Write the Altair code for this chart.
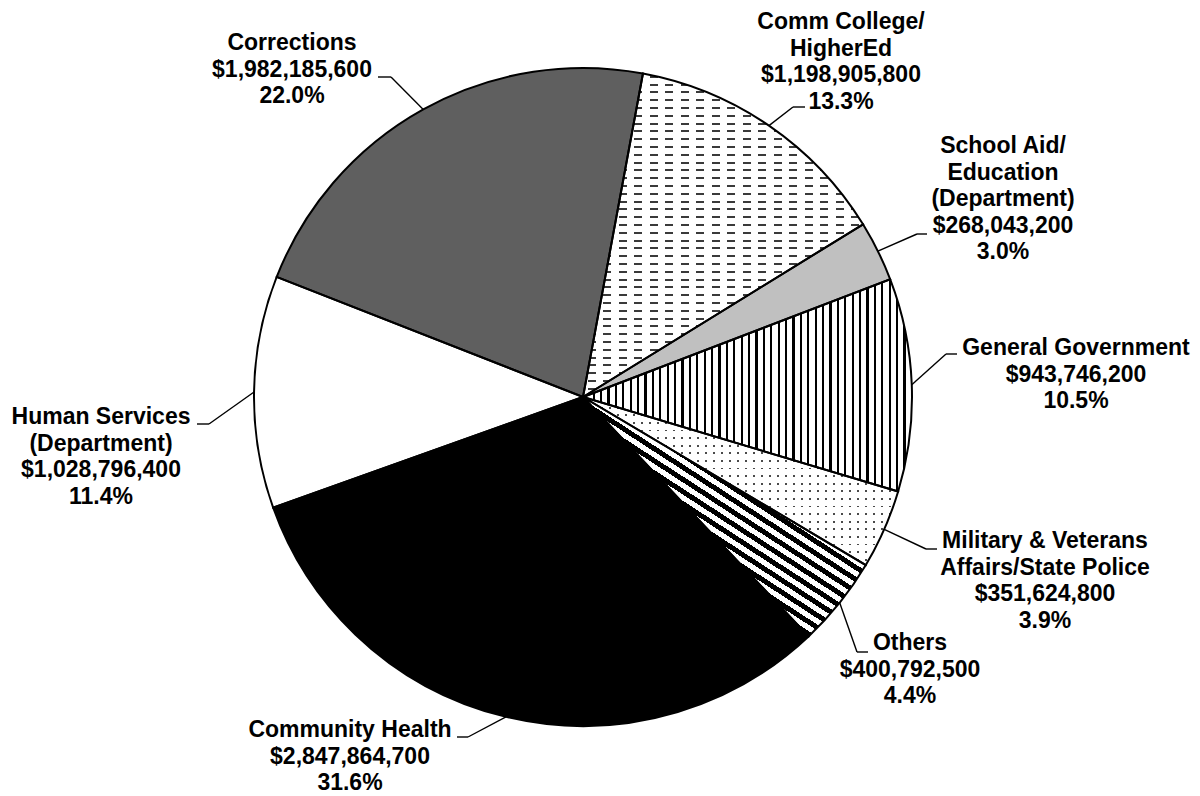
import math
import altair as alt
import pandas as pd

# ---------------- data ----------------
names = [
    "Comm College/\nHigherEd",
    "School Aid/\nEducation\n(Department)",
    "General Government",
    "Military & Veterans\nAffairs/State Police",
    "Others",
    "Community Health",
    "Human Services\n(Department)",
    "Corrections",
]
amounts = [1198905800, 268043200, 943746200, 351624800,
           400792500, 2847864700, 1028796400, 1982185600]

# ---------------- layout (pixels, relative to pie centre) ----------------
CX, CY, R = 575, 389, 329          # pie centre in chart coords, radius
START_DEG = 10.5                   # first slice starts here (clockwise from 12 o'clock)
label_dx = [258, 420, 493, 462, 327, -233, -482, -291]
label_dy = [-368, -244, -42, 151, 253, 340, 27, -347]
elbow_dx = [210, 334, 363, 343, 274, -115, -374, -192]
elbow_dy = [-290, -163, -43, 152, 255, 340, 27, -320]
stub_len = [12, 10, 11, 11, 11, -11, -12, -13]

# ---------------- fills (patterns emulated with hard-stop gradients) ----------------
total = sum(amounts)
CLEAR = "rgba(255,255,255,0)"


def wedge_bbox(a0, a1, r):
    pts = [(0.0, 0.0)]
    angs = [a0, a1] + [k * 90.0 for k in range(0, 9) if a0 < k * 90.0 < a1]
    for a in angs:
        t = math.radians(a)
        pts.append((r * math.sin(t), -r * math.cos(t)))
    xs = [p[0] for p in pts]
    ys = [p[1] for p in pts]
    return max(xs) - min(xs), max(ys) - min(ys)


def stripes(w, h, normal_deg, period, lw, line_color, bg="white", phase=0.3):
    nx, ny = math.cos(math.radians(normal_deg)), math.sin(math.radians(normal_deg))
    corners = [(0, 0), (1, 0), (0, 1), (1, 1)]
    vals = [nx * w * u + ny * h * v for u, v in corners]
    lo = min(vals)
    L = max(vals) - lo
    u0, v0 = corners[vals.index(lo)]
    gx, gy = nx * w / L, ny * h / L
    g2 = gx * gx + gy * gy
    x1, y1 = u0, v0
    x2, y2 = u0 + gx / g2, v0 + gy / g2
    n = int(L / period) + 2
    stops = []
    lwn = lw / L
    for k in range(n):
        a = (k + phase) * period / L
        if a >= 1:
            break
        b = min(a + lwn, 1.0)
        stops += [(a, bg), (a, line_color), (b, line_color), (b, bg)]
    stops = [(0.0, bg)] + stops + [(1.0, bg)]
    return alt.LinearGradient(
        gradient="linear",
        stops=[alt.GradientStop(offset=round(o, 5), color=c) for o, c in stops],
        x1=x1, y1=y1, x2=x2, y2=y2,
    )


angles = []
acc = START_DEG
for v in amounts:
    a0 = acc
    acc += 360.0 * v / total
    angles.append((a0, acc))

bbox = [wedge_bbox(a0, a1, R) for a0, a1 in angles]

fills = [
    stripes(*bbox[0], 90, 7.8, 2.0, "#3a3a3a"),      # rows for dashes
    "#c0c0c0",                                       # solid light grey
    stripes(*bbox[2], 0, 7.4, 2.2, "#000000"),       # vertical lines
    stripes(*bbox[3], 90, 7.6, 1.7, "#4a4a4a"),      # rows for dots
    stripes(*bbox[4], 123, 10.2, 5.0, "#000000"),    # diagonal stripes
    "#000000",
    "#ffffff",
    "#5f5f5f",
]
# white masks with clear gaps: cut rows into dashes / dots
overlays = {
    0: stripes(*bbox[0], 0, 15.5, 8.0, CLEAR, bg="white"),
    3: stripes(*bbox[3], 0, 8.0, 1.8, CLEAR, bg="white"),
}

df = pd.DataFrame({
    "order": list(range(len(names))),
    "name": names,
    "value": amounts,
    "ldx": label_dx, "ldy": label_dy,
    "edx": elbow_dx, "edy": elbow_dy,
    "stub": stub_len,
})

base = (
    alt.Chart(df)
    .transform_joinaggregate(total="sum(value)")
    .transform_window(cum="sum(value)", sort=[alt.SortField("order")], frame=[None, 0])
    .transform_calculate(
        t0=f"{math.radians(START_DEG)} + 2*PI*(datum.cum - datum.value)/datum.total",
        t1=f"{math.radians(START_DEG)} + 2*PI*datum.cum/datum.total",
    )
    .transform_calculate(
        tm="(datum.t0 + datum.t1)/2",
        label="datum.name + '\\n' + format(datum.value, '$,') + '\\n' + format(datum.value/datum.total, '.1%')",
        lx=f"{CX} + datum.ldx", ly=f"{CY} + datum.ldy",
        bx=f"{CX} + datum.edx", by=f"{CY} + datum.edy",
        sx=f"{CX} + datum.edx + datum.stub",
    )
    .transform_calculate(
        ex=f"{CX} + {R}*sin(datum.tm)",
        ey=f"{CY} - {R}*cos(datum.tm)",
    )
)

arc_enc = dict(
    theta=alt.Theta("t0:Q", scale=None),
    theta2=alt.Theta2("t1:Q"),
    x=alt.value(CX),
    y=alt.value(CY),
)

layers = []
for i in range(len(names)):
    sel = base.transform_filter(alt.datum.order == i)
    layers.append(sel.mark_arc(radius=R, fill=fills[i], strokeWidth=0).encode(**arc_enc))
    if i in overlays:
        layers.append(sel.mark_arc(radius=R, fill=overlays[i], strokeWidth=0).encode(**arc_enc))

outline = base.mark_arc(
    radius=R, fillOpacity=0, stroke="#000000", strokeWidth=2, strokeJoin="miter"
).encode(**arc_enc)

lead1 = base.mark_rule(color="#000000", strokeWidth=1.4).encode(
    x=alt.X("ex:Q", scale=None), y=alt.Y("ey:Q", scale=None),
    x2="bx:Q", y2="by:Q",
)
lead2 = base.mark_rule(color="#000000", strokeWidth=1.4).encode(
    x=alt.X("bx:Q", scale=None), y=alt.Y("by:Q", scale=None),
    x2="sx:Q", y2="by:Q",
)
labels = base.mark_text(
    align="center", baseline="alphabetic", lineBreak="\n",
    font="Liberation Sans", fontWeight="bold", fontSize=23, lineHeight=26.5,
    color="#000000",
).encode(
    x=alt.X("lx:Q", scale=None), y=alt.Y("ly:Q", scale=None), text="label:N",
)

chart = (
    alt.layer(*layers, outline, lead1, lead2, labels)
    .properties(width=1184, height=788, autosize="none", padding=0)
    .configure_view(strokeWidth=0)
)

chart.save("out.html", embed_options={"renderer": "svg", "actions": False})
